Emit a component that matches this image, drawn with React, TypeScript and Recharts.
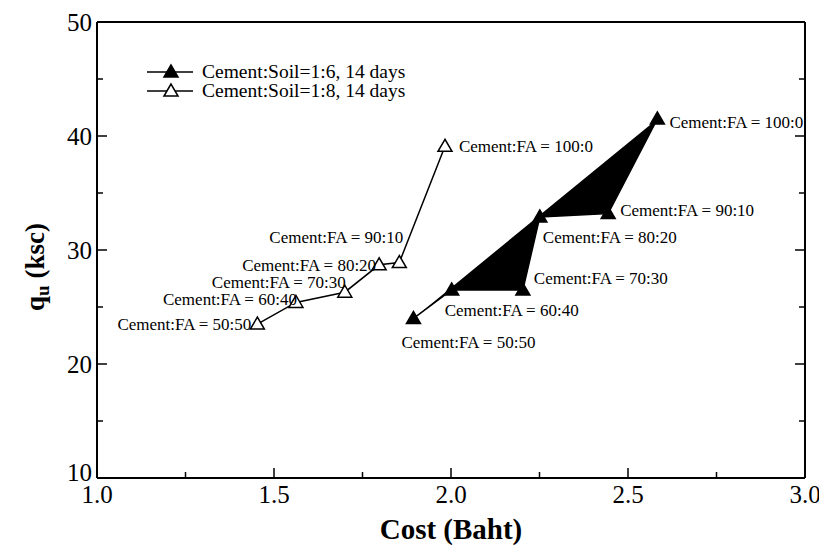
import React from "react";
import { ScatterChart, Scatter, XAxis, YAxis, Customized } from "recharts";

const mixes = ["50:50", "60:40", "70:30", "80:20", "90:10", "100:0"];
const cost16 = [1.894, 2.002, 2.203, 2.251, 2.444, 2.583];
const qu16 = [24.0, 26.5, 26.5, 32.9, 33.2, 41.5];
const cost18 = [1.453, 1.562, 1.7, 1.797, 1.854, 1.983];
const qu18 = [23.5, 25.4, 26.3, 28.7, 28.9, 39.1];
const xTicks = [1.0, 1.25, 1.5, 1.75, 2.0, 2.25, 2.5, 2.75, 3.0];
const yTicks = [10, 15, 20, 25, 30, 35, 40, 45, 50];
const seriesNames = ["Cement:Soil=1:6, 14 days", "Cement:Soil=1:8, 14 days"];

const data16 = mixes.map((m, i) => ({ mix: m, cost: cost16[i], qu: qu16[i] }));
const data18 = mixes.map((m, i) => ({ mix: m, cost: cost18[i], qu: qu18[i] }));

const FONT = '"Liberation Serif", "Times New Roman", serif';

// where each point label sits: [anchor, dx, dy]
const place16: Record<string, [string, number, number]> = {
  "50:50": ["start", -12, 30],
  "60:40": ["start", -7, 26],
  "70:30": ["start", 11, -6],
  "80:20": ["start", 3, 26],
  "90:10": ["start", 12, 2],
  "100:0": ["start", 12, 9],
};
const place18: Record<string, [string, number, number]> = {
  "50:50": ["end", -6, 6],
  "60:40": ["end", 1, 3],
  "70:30": ["end", 1, -4],
  "80:20": ["end", -3, 6],
  "90:10": ["end", 4, -20],
  "100:0": ["start", 14, 6],
};

const tri = (cx: number, cy: number) =>
  `${cx},${cy - 7} ${cx - 7},${cy + 5} ${cx + 7},${cy + 5}`;

const makeShape = (filled: boolean, place: Record<string, [string, number, number]>) => (p: any) => {
  const { cx, cy, payload } = p;
  const [anchor, dx, dy] = place[payload.mix];
  return (
    <g>
      <polygon
        points={tri(cx, cy)}
        fill={filled ? "#000" : "#fff"}
        stroke="#000"
        strokeWidth={1.5}
      />
      <text
        x={cx + dx}
        y={cy + dy}
        textAnchor={anchor as any}
        fontFamily={FONT}
        fontSize={17}
        fill="#000"
      >
        {"Cement:FA = " + payload.mix}
      </text>
    </g>
  );
};

const isMajorX = (v: number) => Math.abs(v * 2 - Math.round(v * 2)) < 1e-6;
const isMajorY = (v: number) => v % 10 === 0;

// tickSize/tickMargin are 0, so x/y here sit on the axis line
const BottomTick = (p: any) => {
  const { x, y, payload } = p;
  const major = isMajorX(payload.value);
  return (
    <g>
      <line x1={x} x2={x} y1={y} y2={y - (major ? 10 : 6)} stroke="#000" strokeWidth={1.5} />
      {major && (
        <text x={x} y={y + 25} textAnchor="middle" fontFamily={FONT} fontSize={25} fill="#000">
          {payload.value.toFixed(1)}
        </text>
      )}
    </g>
  );
};

const TopTick = (p: any) => {
  const { x, y, payload } = p;
  const major = isMajorX(payload.value);
  return <line x1={x} x2={x} y1={y} y2={y + (major ? 10 : 6)} stroke="#000" strokeWidth={1.5} />;
};

const LeftTick = (p: any) => {
  const { x, y, payload } = p;
  const major = isMajorY(payload.value);
  // bottom label lifted a little so it clears the 1.0 below
  const dy = payload.value === 10 ? 3 : 9;
  return (
    <g>
      <line x1={x} x2={x + (major ? 10 : 6)} y1={y} y2={y} stroke="#000" strokeWidth={1.5} />
      {major && (
        <text x={x - 5} y={y + dy} textAnchor="end" fontFamily={FONT} fontSize={25} fill="#000">
          {payload.value}
        </text>
      )}
    </g>
  );
};

const RightTick = (p: any) => {
  const { x, y, payload } = p;
  const major = isMajorY(payload.value);
  return <line x1={x} x2={x - (major ? 10 : 6)} y1={y} y2={y} stroke="#000" strokeWidth={1.5} />;
};

const Extras = () => (
  <g fontFamily={FONT} fill="#000">
    {seriesNames.map((name, i) => (
      <g key={name}>
        <line x1={139} x2={185} y1={64 + i * 19} y2={64 + i * 19} stroke="#000" strokeWidth={1.5} />
        <polygon points={tri(163, 64 + i * 19)} fill={i === 0 ? "#000" : "#fff"} stroke="#000" strokeWidth={1.5} />
        <text x={194} y={70 + i * 19} fontSize={19.5}>
          {name}
        </text>
      </g>
    ))}
    <text x={443} y={531} textAnchor="middle" fontSize={29} fontWeight="bold">
      Cost (Baht)
    </text>
    <text
      x={36}
      y={259}
      textAnchor="middle"
      fontSize={27}
      fontWeight="bold"
      transform="rotate(-90, 36, 259)"
    >
      q<tspan fontSize={19} dy={5}>u</tspan>
      <tspan dy={-5}> (ksc)</tspan>
    </text>
  </g>
);

export default function App() {
  return (
    <ScatterChart
      width={819}
      height={544}
      margin={{ top: 4, right: 12, bottom: 44, left: 49 }}
    >
      <XAxis
        dataKey="cost"
        type="number"
        domain={[1, 3]}
        ticks={xTicks}
        interval={0}
        height={30}
        tickSize={0}
        tickMargin={0}
        tickLine={false}
        axisLine={{ stroke: "#000", strokeWidth: 2 }}
        tick={BottomTick}
        allowDataOverflow
      />
      <XAxis
        xAxisId="top"
        orientation="top"
        type="number"
        domain={[1, 3]}
        ticks={xTicks}
        interval={0}
        height={10}
        tickSize={0}
        tickMargin={0}
        tickLine={false}
        axisLine={{ stroke: "#000", strokeWidth: 2 }}
        tick={TopTick}
        allowDataOverflow
      />
      <YAxis
        dataKey="qu"
        type="number"
        domain={[10, 50]}
        ticks={yTicks}
        interval={0}
        width={40}
        tickSize={0}
        tickMargin={0}
        tickLine={false}
        axisLine={{ stroke: "#000", strokeWidth: 2 }}
        tick={LeftTick}
        allowDataOverflow
      />
      <YAxis
        yAxisId="right"
        orientation="right"
        type="number"
        domain={[10, 50]}
        ticks={yTicks}
        interval={0}
        width={10}
        tickSize={0}
        tickMargin={0}
        tickLine={false}
        axisLine={{ stroke: "#000", strokeWidth: 2 }}
        tick={RightTick}
        allowDataOverflow
      />
      <Scatter
        name={seriesNames[0]}
        data={data16}
        fill="#000"
        line={{ stroke: "#000", strokeWidth: 1.5, fill: "#000" }}
        shape={makeShape(true, place16)}
        isAnimationActive={false}
      />
      <Scatter
        name={seriesNames[1]}
        data={data18}
        fill="#000"
        line={{ stroke: "#000", strokeWidth: 1.5 }}
        shape={makeShape(false, place18)}
        isAnimationActive={false}
      />
      <Customized component={Extras} />
    </ScatterChart>
  );
}
